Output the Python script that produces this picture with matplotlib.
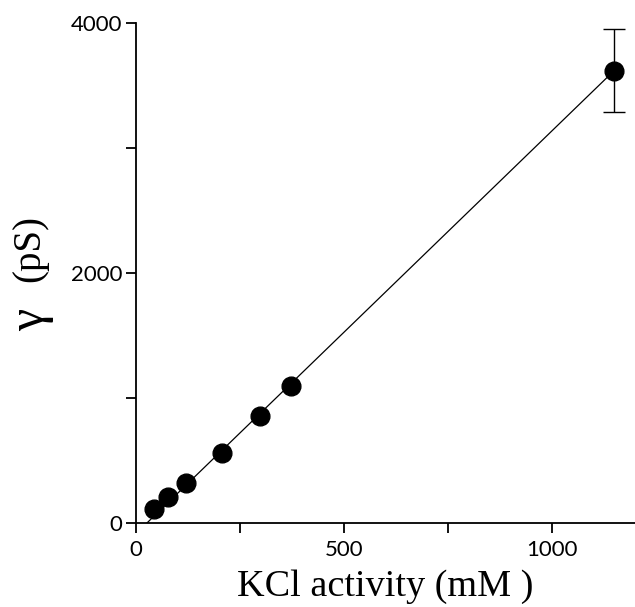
import numpy as np
import matplotlib
matplotlib.use("Agg")
import matplotlib.pyplot as plt

# KCl activity (mM) vs single channel conductance (pS)
kcl      = [44, 78, 120, 206, 299, 373, 1150]
gamma_ps = [110, 210, 322, 562, 856, 1096, 3620]
gamma_err = [0, 0, 0, 0, 0, 0, 330]

# fitted line
fit_x = [26, 1150]
fit_y = [0, 3620]

xticks = [0, 250, 500, 750, 1000]
xlabels = ["0", "", "500", "", "1000"]
yticks = [0, 1000, 2000, 3000, 4000]
ylabels = ["0", "", "2000", "", "4000"]

fig = plt.figure(figsize=(6.35, 6.07), dpi=100)
ax = fig.add_axes([0.214, 0.138, 0.786, 0.824])

ax.plot(fit_x, fit_y, color="black", linewidth=0.9)
ax.errorbar(kcl[-1:], gamma_ps[-1:], yerr=gamma_err[-1:], fmt="none",
            ecolor="black", elinewidth=1.0, capsize=8, capthick=1.0)
ax.plot(kcl, gamma_ps, "o", color="black", markersize=13.5)

ax.set_xlim(0, 1200)
ax.set_ylim(0, 4000)
ax.set_xticks(xticks)
ax.set_xticklabels(xlabels)
ax.set_yticks(yticks)
ax.set_yticklabels(ylabels)

for s in ["top", "right"]:
    ax.spines[s].set_visible(False)
for s in ["left", "bottom"]:
    ax.spines[s].set_linewidth(1.3)
ax.tick_params(direction="out", length=7, width=1.3, labelsize=16)
ax.tick_params(axis="x", pad=5)
ax.tick_params(axis="y", pad=3)
for lab in ax.get_xticklabels() + ax.get_yticklabels():
    lab.set_family("Lato")

ax.set_xlabel("KCl activity (mM )", fontsize=27.5, family="Liberation Serif", labelpad=7)

# y label: big gamma plus unit, both rotated
fig.text(31 / 635, 1 - 320 / 607, "γ", rotation=90, fontsize=36,
         family="Liberation Serif", ha="center", va="center")
fig.text(30 / 635, 1 - 249 / 607, "(pS)", rotation=90, fontsize=28,
         family="Liberation Serif", ha="center", va="center")

fig.savefig("out.png", dpi=100)
